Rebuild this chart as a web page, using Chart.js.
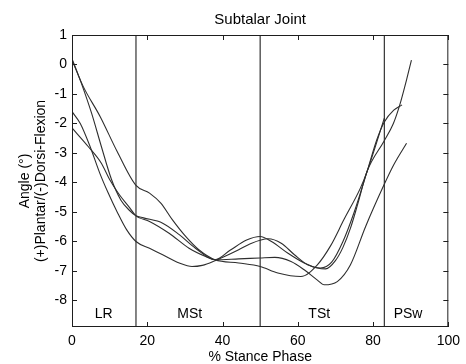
<!DOCTYPE html>
<html>
<head>
<meta charset="utf-8">
<script src="https://cdn.jsdelivr.net/npm/chart.js@4.4.1/dist/chart.umd.min.js"></script>
<style>
  html, body { margin: 0; padding: 0; background: #fff; }
</style>
</head>
<body>
<canvas id="chart" width="466" height="364"></canvas>
<script>
// axis ticks
const xTicks = [0, 20, 40, 60, 80, 100];
const yTicks = [-8, -7, -6, -5, -4, -3, -2, -1, 0, 1];
const yMin = -8.9;
const yMax = 1;

// gait phases
const phaseBounds = [17, 50, 83];
const phaseNames = ['LR', 'MSt', 'TSt', 'PSw'];
const phaseNameX = [8.4, 31.3, 65.7, 89.3];
const phaseNameY = -8.45;

// subject curves (% stance, angle in degrees)
const s1x = [0, 3, 7.5, 12, 17, 20.6, 23.6, 26.7, 30.2, 33.7, 38, 44.3, 50, 54.7, 60.8, 65.2, 68.7, 72.3, 76.6, 78.4, 83];
const s1y = [0.15, -0.75, -1.77, -2.95, -4.1, -4.36, -4.7, -5.27, -5.83, -6.28, -6.62, -6.73, -6.85, -7.07, -7.19, -6.79, -6.15, -5.25, -4.2, -3.63, -1.82];

const s2x = [0, 2.5, 5.2, 7.8, 10.5, 13, 15.3, 17, 19, 24.1, 28.5, 32.8, 38, 44.3, 49.9, 53.9, 58.2, 61.7, 65.2, 67, 70.5, 74, 78, 82.7, 85.5, 88.9];
const s2y = [0.2, -0.64, -1.65, -2.78, -3.9, -4.6, -4.95, -5.13, -5.2, -5.38, -5.77, -6.23, -6.62, -6.59, -6.56, -6.54, -6.68, -6.96, -7.31, -7.47, -7.36, -6.79, -5.5, -4.14, -3.4, -2.67];

const s3x = [0, 2.2, 4.8, 7.4, 9.6, 12, 14.5, 17, 20.6, 24.1, 28.5, 31.9, 34.6, 38, 44.3, 47, 52.1, 55.6, 59.1, 62.6, 66, 69, 72, 75, 78.4, 81, 83, 85.5, 87.7];
const s3y = [-1.6, -2.0, -2.78, -3.69, -4.35, -5.0, -5.6, -6.0, -6.23, -6.45, -6.73, -6.85, -6.81, -6.65, -6.28, -6.1, -5.91, -6.06, -6.45, -6.79, -6.9, -6.7, -6.0, -5.0, -3.63, -2.55, -1.95, -1.55, -1.37];

const s4x = [0, 4.3, 7.8, 10, 12.5, 15.3, 17, 20.6, 25.8, 31.1, 35.5, 38, 42, 46.4, 50, 53, 57.4, 61.7, 65.2, 67.4, 70, 72, 74, 76, 78.4, 82.9, 85.4, 87.1, 88.9, 90.2];
const s4y = [-2.15, -2.78, -3.35, -3.9, -4.4, -4.85, -5.13, -5.32, -5.72, -6.23, -6.51, -6.62, -6.3, -5.95, -5.83, -6.0, -6.4, -6.73, -6.9, -6.93, -6.65, -6.2, -5.55, -4.7, -3.63, -2.6, -2.0, -1.37, -0.52, 0.15];

const curves = [[s1x, s1y], [s2x, s2y], [s3x, s3y], [s4x, s4y]];

const FONT = "'Liberation Sans', Arial, Helvetica, sans-serif";
const INK = '#1e1e1e';

function toPoints(xs, ys) {
    return xs.map((x, i) => ({ x: x, y: ys[i] }));
}

const datasets = curves.map(c => ({
    data: toPoints(c[0], c[1]),
    borderColor: '#2e2e2e',
    borderWidth: 1.1,
    pointRadius: 0,
    fill: false,
    cubicInterpolationMode: 'monotone'
}));

phaseBounds.forEach(b => {
    datasets.push({
        data: [{ x: b, y: yMin }, { x: b, y: yMax }],
        borderColor: '#333',
        borderWidth: 1.2,
        pointRadius: 0,
        tension: 0
    });
});

// box, inward ticks and phase names
const framePlugin = {
    id: 'frame',
    afterDatasetsDraw(chart) {
        const { ctx, chartArea: a, scales: { x, y } } = chart;
        const tl = 5;
        ctx.save();
        ctx.strokeStyle = INK;
        ctx.lineWidth = 1;
        ctx.strokeRect(a.left + 0.5, a.top + 0.5, a.right - a.left - 1, a.bottom - a.top - 1);
        ctx.beginPath();
        xTicks.forEach(v => {
            const px = Math.round(x.getPixelForValue(v)) + 0.5;
            ctx.moveTo(px, a.bottom);
            ctx.lineTo(px, a.bottom - tl);
            ctx.moveTo(px, a.top);
            ctx.lineTo(px, a.top + tl);
        });
        yTicks.forEach(v => {
            const py = Math.round(y.getPixelForValue(v)) + 0.5;
            ctx.moveTo(a.left, py);
            ctx.lineTo(a.left + tl, py);
            ctx.moveTo(a.right, py);
            ctx.lineTo(a.right - tl, py);
        });
        ctx.stroke();

        ctx.fillStyle = '#000';
        ctx.font = '14px ' + FONT;
        ctx.textAlign = 'center';
        ctx.textBaseline = 'middle';
        phaseNames.forEach((n, i) => {
            ctx.fillText(n, x.getPixelForValue(phaseNameX[i]), y.getPixelForValue(phaseNameY));
        });
        ctx.restore();
    }
};

new Chart(document.getElementById('chart'), {
    type: 'line',
    data: { datasets: datasets },
    options: {
        responsive: false,
        animation: false,
        devicePixelRatio: 1,
        layout: { padding: { left: 0, right: 14, top: 0, bottom: 0 } },
        plugins: {
            legend: { display: false },
            tooltip: { enabled: false },
            title: {
                display: true,
                text: 'Subtalar Joint',
                fullSize: false,
                color: '#000',
                font: { family: FONT, size: 15, weight: 'normal' },
                padding: { top: 11, bottom: 6 }
            }
        },
        scales: {
            x: {
                type: 'linear',
                min: 0,
                max: 100,
                afterBuildTicks: s => { s.ticks = xTicks.map(v => ({ value: v })); },
                afterFit: s => { s.height = 37; },
                grid: { display: false, drawTicks: false },
                border: { display: false },
                ticks: { color: '#000', font: { family: FONT, size: 14 }, padding: 6, maxRotation: 0, autoSkip: false },
                title: {
                    display: true,
                    text: '% Stance Phase',
                    color: '#000',
                    font: { family: FONT, size: 14, lineHeight: 1 },
                    padding: 0
                }
            },
            y: {
                type: 'linear',
                min: yMin,
                max: yMax,
                afterBuildTicks: s => { s.ticks = yTicks.map(v => ({ value: v })); },
                afterFit: s => { s.width = 72; },
                grid: { display: false, drawTicks: false },
                border: { display: false },
                ticks: { color: '#000', font: { family: FONT, size: 14 }, padding: 5, autoSkip: false },
                title: {
                    display: true,
                    text: ['Angle (\u00b0)', '(+)Plantar/(-)Dorsi-Flexion'],
                    color: '#000',
                    font: { family: FONT, size: 14, lineHeight: 1.15 },
                    padding: { top: 17, bottom: 0 }
                }
            }
        }
    },
    plugins: [framePlugin]
});
</script>
</body>
</html>
